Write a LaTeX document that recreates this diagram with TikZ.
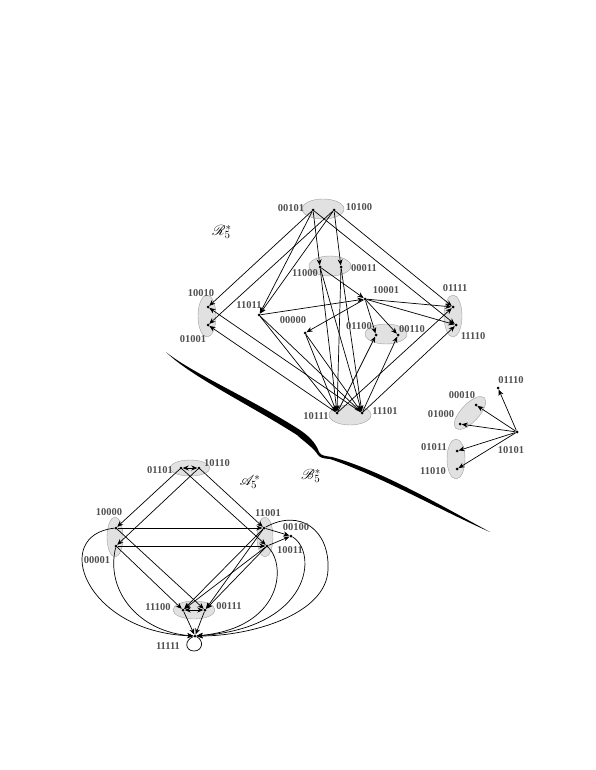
\documentclass[tikz,border=0pt]{standalone}
\usepackage{fontspec}
\setmainfont{Liberation Serif}
\usepackage{mathrsfs}
\usetikzlibrary{arrows.meta}
\definecolor{labgray}{RGB}{80,80,80}
\definecolor{grpfill}{RGB}{225,225,225}
\definecolor{grpline}{RGB}{160,160,160}
\tikzset{
  dot/.style={circle,fill=black,inner sep=0pt,minimum size=3pt},
  lbl/.style={font=\bfseries\fontsize{10.5}{12}\selectfont,text=labgray,inner sep=0pt},
  ttl/.style={font=\fontsize{15}{17}\selectfont,inner sep=0pt},
  grp/.style={fill=grpfill,draw=grpline,line width=0.4pt},
  arr/.style={-{Stealth[length=6pt,width=5pt]},line width=0.7pt},
  barr/.style={{Stealth[length=6pt,width=5pt]}-{Stealth[length=6pt,width=5pt]},line width=0.7pt}
}
\begin{document}
\begin{tikzpicture}[x=1pt,y=-1pt]
\useasboundingbox (0,0) rectangle (595,770);
% ---------- group ellipses ----------
\draw[grp] (323,209) ellipse [x radius=21pt,y radius=10pt];
\draw[grp] (330,266) ellipse [x radius=21pt,y radius=10pt];
\draw[grp] (207,316) ellipse [x radius=9pt,y radius=21pt];
\draw[grp] (386,334) ellipse [x radius=21pt,y radius=10pt];
\draw[grp] (453,316) ellipse [x radius=9pt,y radius=21pt];
\draw[grp] (350,415) ellipse [x radius=21pt,y radius=10pt];
\draw[grp,rotate around={47:(470,413)}] (470,413) ellipse [x radius=21pt,y radius=9pt];
\draw[grp] (456,459) ellipse [x radius=9pt,y radius=20pt];
\draw[grp] (190,468) ellipse [x radius=20pt,y radius=8pt];
\draw[grp] (115,537) ellipse [x radius=8pt,y radius=20pt];
\draw[grp] (265,537) ellipse [x radius=8pt,y radius=20pt];
\draw[grp] (194,610) ellipse [x radius=21pt,y radius=9pt];
% ---------- nodes: R5* ----------
\node[dot] (n00101) at (313,210) {};
\node[dot] (n10100) at (334,210) {};
\node[dot] (n11000) at (320,267) {};
\node[dot] (n00011) at (341,267) {};
\node[dot] (n10001) at (365,299) {};
\node[dot] (n10010) at (208,307) {};
\node[dot] (n01001) at (208,325) {};
\node[dot] (n11011) at (259,315) {};
\node[dot] (n00000) at (305,333) {};
\node[dot] (n01100) at (376,335) {};
\node[dot] (n00110) at (398,335) {};
\node[dot] (n01111) at (453,307) {};
\node[dot] (n11110) at (456,325) {};
\node[dot] (n10111) at (337,413) {};
\node[dot] (n11101) at (362,413) {};
% ---------- nodes: B5* ----------
\node[dot] (n10101) at (517,432) {};
\node[dot] (n01110) at (498,388) {};
\node[dot] (n00010) at (476,405) {};
\node[dot] (n01000) at (460,424) {};
\node[dot] (n01011) at (457,451) {};
\node[dot] (n11010) at (457,469) {};
% ---------- nodes: A5* ----------
\node[dot] (n01101) at (181,468) {};
\node[dot] (n10110) at (199,468) {};
\node[dot] (n10000) at (116,528) {};
\node[dot] (n00001) at (116,546) {};
\node[dot] (n11001) at (264,528) {};
\node[dot] (n10011) at (267,546) {};
\node[dot] (n00100) at (291,536) {};
\node[dot] (n11100) at (183,610) {};
\node[dot] (n00111) at (205,610) {};
\node[dot] (n11111) at (195,636) {};
% ---------- edges: R5* ----------
\draw[arr] (n00101) -- (n10010);
\draw[arr] (n10100) -- (n01001);
\draw[arr] (n00101) -- (n11011);
\draw[arr] (n10100) -- (n11011);
\draw[arr] (n00101) -- (n11110);
\draw[arr] (n10100) -- (n01111);
\draw[arr] (n00101) -- (n11000);
\draw[arr] (n10100) -- (n00011);
\draw[arr] (n11000) -- (n10111);
\draw[arr] (n11000) -- (n11101);
\draw[arr] (n00011) -- (n10111);
\draw[arr] (n00011) -- (n11101);
\draw[arr] (n11000) -- (n10001);
\draw[arr] (n11011) -- (n10001);
\draw[arr] (n10001) -- (n00000);
\draw[arr] (n10001) -- (n01111);
\draw[arr] (n10001) -- (n11110);
\draw[arr] (n10001) -- (n01100);
\draw[arr] (n10001) -- (n00110);
\draw[arr] (n11011) -- (n10111);
\draw[arr] (n11011) -- (n11101);
\draw[arr] (n00000) -- (n10111);
\draw[arr] (n00000) -- (n11101);
\draw[arr] (n11101) -- (n10010);
\draw[arr] (n10111) -- (n01001);
\draw[arr] (n10111) -- (n01111);
\draw[arr] (n11101) -- (n11110);
\draw[arr] (n10111) -- (n01100);
\draw[arr] (n11101) -- (n00110);
% ---------- edges: B5* ----------
\draw[arr] (n10101) -- (n01110);
\draw[arr] (n10101) -- (n00010);
\draw[arr] (n10101) -- (n01000);
\draw[arr] (n10101) -- (n01011);
\draw[arr] (n10101) -- (n11010);
% ---------- edges: A5* ----------
\draw[barr] (n01101) -- (n10110);
\draw[arr] (n01101) -- (n10000);
\draw[arr] (n10110) -- (n00001);
\draw[arr] (n01101) -- (n10011);
\draw[arr] (n10110) -- (n11001);
\draw[arr] (n10000) -- (n11001);
\draw[arr] (n00001) -- (n10011);
\draw[arr] (n10000) -- (n00111);
\draw[arr] (n00001) -- (n11100);
\draw[arr] (n11001) -- (n11100);
\draw[arr] (n11001) -- (n00111);
\draw[arr] (n10011) -- (n11100);
\draw[arr] (n10011) -- (n00111);
\draw[barr] (n11100) -- (n00111);
\draw[arr] (n11100) -- (n11111);
\draw[arr] (n00111) -- (n11111);
\draw[arr] (n11001) -- (n00100);
\draw[arr] (n10011) -- (n00100);
\draw[arr] (n10000) .. controls (50,535) and (85,632) .. (n11111);
\draw[arr] (n00001) .. controls (105,592) and (140,632) .. (n11111);
\draw[arr] (n11001) .. controls (300,508) and (330,530) .. (328,570) .. controls (326,615) and (250,636) .. (n11111);
\draw[arr] (n00100) .. controls (318,552) and (312,628) .. (n11111);
\draw[arr] (n10011) .. controls (287,566) and (282,628) .. (n11111);
\draw[line width=0.7pt] (n11111) .. controls (184,640) and (185,651) .. (194,651) .. controls (203,651) and (204,640) .. (n11111);
% ---------- separator ----------
\fill[black] (166,352) .. controls (190,372) and (250,398) .. (300,430)
  .. controls (312,438) and (317,446) .. (319,452)
  .. controls (321,456) and (326,456) .. (332,457)
  .. controls (380,470) and (440,505) .. (490,532)
  .. controls (440,510) and (380,476) .. (330,459)
  .. controls (324,458.5) and (320,458) .. (318,455)
  .. controls (314,448) and (302,440) .. (297,435)
  .. controls (250,405) and (190,376) .. (166,352) -- cycle;
% ---------- labels ----------
\node[lbl] (l00101) at (291,208) {00101};
\node[lbl] (l10100) at (359,207) {10100};
\node[lbl] (l11000) at (305,273) {11000};
\node[lbl] (l00011) at (364,268) {00011};
\node[lbl] (l10001) at (386,290) {10001};
\node[lbl] (l10010) at (201,293) {10010};
\node[lbl] (l01001) at (193,339) {01001};
\node[lbl] (l11011) at (249,305) {11011};
\node[lbl] (l00000) at (293,320) {00000};
\node[lbl] (l01100) at (359,326) {01100};
\node[lbl] (l00110) at (412,329) {00110};
\node[lbl] (l01111) at (455,288) {01111};
\node[lbl] (l11110) at (473,336) {11110};
\node[lbl] (l10111) at (316,416) {10111};
\node[lbl] (l11101) at (385,411) {11101};
\node[lbl] (l01110) at (511,380) {01110};
\node[lbl] (l00010) at (462,395) {00010};
\node[lbl] (l01000) at (441,414) {01000};
\node[lbl] (l01011) at (434,447) {01011};
\node[lbl] (l11010) at (433,471) {11010};
\node[lbl] (l10101) at (511,450) {10101};
\node[lbl] (l01101) at (160,470) {01101};
\node[lbl] (l10110) at (217,463) {10110};
\node[lbl] (l10000) at (109,512) {10000};
\node[lbl] (l00001) at (97,560) {00001};
\node[lbl] (l11001) at (268,513) {11001};
\node[lbl] (l10011) at (290,550) {10011};
\node[lbl] (l00100) at (296,527) {00100};
\node[lbl] (l11100) at (158,607) {11100};
\node[lbl] (l00111) at (229,606) {00111};
\node[lbl] (l11111) at (168,646) {11111};
\node[ttl] (tR) at (222,232) {$\mathscr{R}^{*}_{5}$};
\node[ttl] (tA) at (250,482) {$\mathscr{A}^{*}_{5}$};
\node[ttl] (tB) at (311,476) {$\mathscr{B}^{*}_{5}$};
\end{tikzpicture}
\end{document}
